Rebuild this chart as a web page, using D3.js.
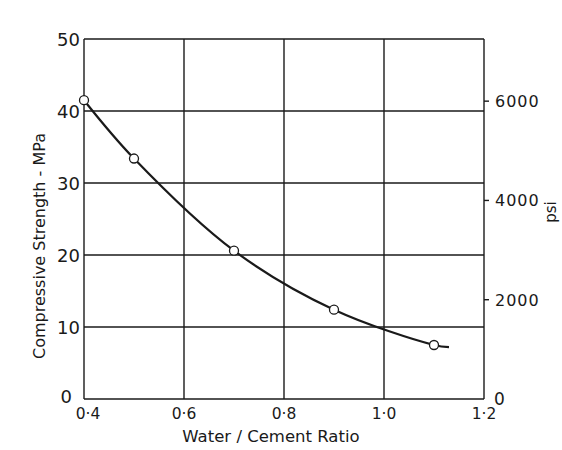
<!DOCTYPE html>
<html>
<head>
<meta charset="utf-8">
<script src="https://cdn.jsdelivr.net/npm/d3@7"></script>
<style>
  body { margin: 0; background: #fff; }
  svg { font-family: "DejaVu Sans", sans-serif; }
</style>
</head>
<body>
<div class="container"></div>
<script>
// measured points (w/c ratio, MPa)
var ratios = [0.4, 0.5, 0.7, 0.9, 1.1];
var strengths = [41.5, 33.4, 20.6, 12.4, 7.5];
// where the drawn curve runs past the last point
var curveEnd = [1.13, 7.2];

var xTicks = [0.4, 0.6, 0.8, 1.0, 1.2];
var xTickLabels = ["0·4", "0·6", "0·8", "1·0", "1·2"];
var yTicks = [0, 10, 20, 30, 40, 50];
var psiTicks = [0, 2000, 4000, 6000];
var psiPerMPa = 145.04;

var width = 562, height = 450;
var plotLeft = 84, plotRight = 484, plotTop = 39, plotBottom = 399;

var svg = d3.select(".container").append("svg")
	.attr("width", width)
	.attr("height", height);

var x = d3.scaleLinear().domain([0.4, 1.2]).range([plotLeft, plotRight]);
var y = d3.scaleLinear().domain([0, 50]).range([plotBottom, plotTop]);
var yPsi = d3.scaleLinear().domain([0, 50 * psiPerMPa]).range([plotBottom, plotTop]);

var ink = "#1a1a1a";

// grid
svg.append("g").selectAll("line")
	.data(yTicks)
	.enter().append("line")
	.attr("x1", plotLeft).attr("x2", plotRight)
	.attr("y1", function(d) { return y(d); })
	.attr("y2", function(d) { return y(d); })
	.attr("stroke", ink).attr("stroke-width", 1.4);

svg.append("g").selectAll("line")
	.data(xTicks)
	.enter().append("line")
	.attr("y1", plotTop).attr("y2", plotBottom)
	.attr("x1", function(d) { return x(d); })
	.attr("x2", function(d) { return x(d); })
	.attr("stroke", ink).attr("stroke-width", 1.4);

// left labels ("0" sits lower and further left, like the original)
svg.append("g").selectAll("text")
	.data(yTicks)
	.enter().append("text")
	.attr("x", function(d) { return d === 0 ? plotLeft - 12 : plotLeft - 4; })
	.attr("y", function(d) { return d === 0 ? y(d) + 4 : y(d) + 6.5; })
	.attr("text-anchor", "end")
	.style("font-size", "18px")
	.style("fill", ink)
	.text(function(d) { return d; });

// bottom labels
svg.append("g").selectAll("text")
	.data(xTicks)
	.enter().append("text")
	.attr("x", function(d, i) { return x(d) + (i === 0 ? 4 : 0); })
	.attr("y", plotBottom + 20)
	.attr("text-anchor", "middle")
	.style("font-size", "15.5px")
	.style("fill", ink)
	.text(function(d, i) { return xTickLabels[i]; });

// right psi axis
var psiAxis = svg.append("g");
psiAxis.selectAll("line")
	.data(psiTicks.filter(function(d) { return d > 0; }))
	.enter().append("line")
	.attr("x1", plotRight).attr("x2", plotRight + 5)
	.attr("y1", function(d) { return yPsi(d); })
	.attr("y2", function(d) { return yPsi(d); })
	.attr("stroke", ink).attr("stroke-width", 1.4);
psiAxis.selectAll("text")
	.data(psiTicks)
	.enter().append("text")
	.attr("x", function(d) { return d === 0 ? plotRight + 10 : plotRight + 11; })
	.attr("y", function(d) { return d === 0 ? yPsi(d) + 6 : yPsi(d) + 6; })
	.style("font-size", function(d) { return d === 0 ? "17px" : "16px"; })
	.style("letter-spacing", function(d) { return d === 0 ? "0px" : "1px"; })
	.style("fill", ink)
	.text(function(d) { return d; });

// titles
svg.append("text")
	.attr("transform", "translate(45,246) rotate(-90)")
	.attr("text-anchor", "middle")
	.style("font-size", "16px")
	.style("fill", ink)
	.text("Compressive  Strength - MPa");

svg.append("text")
	.attr("x", 271)
	.attr("y", 442)
	.attr("text-anchor", "middle")
	.style("font-size", "16.5px")
	.style("fill", ink)
	.text("Water / Cement Ratio");

svg.append("text")
	.attr("transform", "translate(556,212) rotate(-90)")
	.attr("text-anchor", "middle")
	.style("font-size", "15px")
	.style("fill", ink)
	.text("psi");

// curve
var curveData = ratios.map(function(r, i) { return [r, strengths[i]]; });
curveData.push(curveEnd);

var line = d3.line()
	.x(function(d) { return x(d[0]); })
	.y(function(d) { return y(d[1]); })
	.curve(d3.curveCatmullRom.alpha(0.5));

svg.append("path")
	.datum(curveData)
	.attr("d", line)
	.attr("fill", "none")
	.attr("stroke", ink)
	.attr("stroke-width", 2.2);

svg.append("g").selectAll("circle")
	.data(ratios)
	.enter().append("circle")
	.attr("cx", function(d) { return x(d); })
	.attr("cy", function(d, i) { return y(strengths[i]); })
	.attr("r", 4.5)
	.attr("fill", "#fff")
	.attr("stroke", ink)
	.attr("stroke-width", 1.3);
</script>
</body>
</html>
